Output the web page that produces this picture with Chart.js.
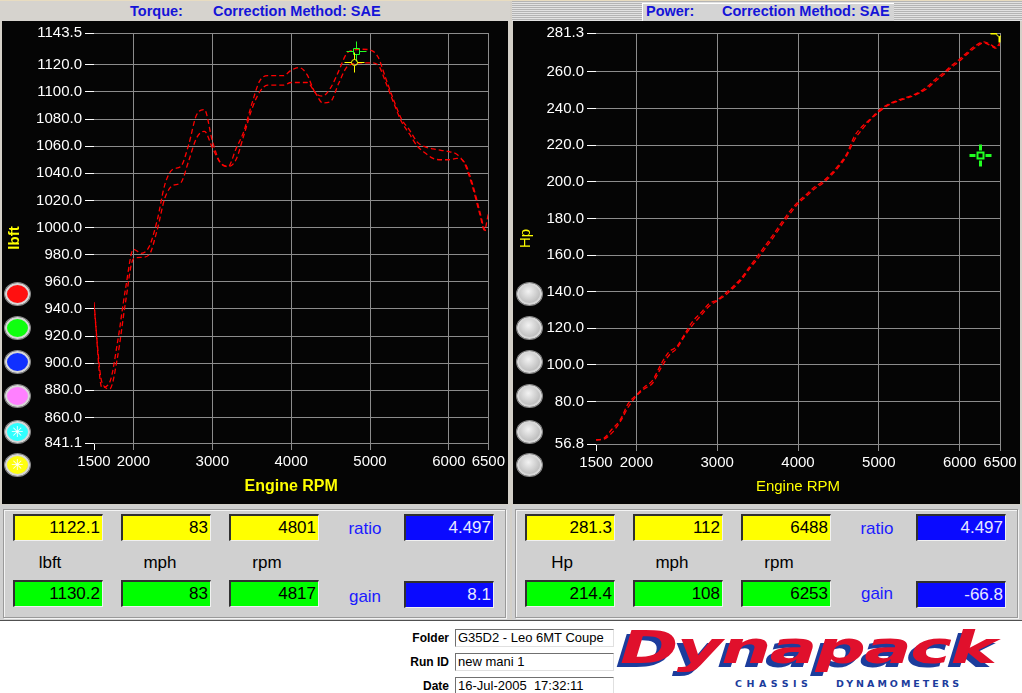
<!DOCTYPE html>
<html>
<head>
<meta charset="utf-8">
<script src="https://cdn.jsdelivr.net/npm/chart.js@4.4.1/dist/chart.umd.min.js"></script>
<style>
  body { margin:0; width:1022px; height:693px; position:relative; overflow:hidden; background:#d4d0c8; font-family:"Liberation Sans", Arial, sans-serif; }
  .abs { position:absolute; }
  .hdr { top:1px; height:20px; }
  .ttl { position:absolute; top:2px; font:bold 14.5px "Liberation Sans", Arial, sans-serif; color:#1414d8; white-space:nowrap; }
  .panel { top:21px; width:506px; height:483px; background:#050505; }
  canvas { position:absolute; top:21px; }
  .btn { position:absolute; width:21px; height:18px; border-radius:50%; border:2px solid #d8d8d8; box-shadow:0 0 0 1px #8a8a8a; color:#fff; font-size:15px; line-height:18px; text-align:center; }
  .grey { background:radial-gradient(circle at 45% 35%, #f2f2f2, #c4c4c4 65%, #a8a8a8); }
  .readout { position:absolute; top:505px; width:510px; height:115px; background:#d0d0d0; }
  .frame { position:absolute; left:3px; top:4px; right:4px; bottom:2px; border:1px solid #9a9a9a; box-shadow:inset 1px 1px 0 #f4f4f4, 1px 1px 0 #f4f4f4; }
  .box { position:absolute; width:90px; height:27px; box-sizing:border-box; border-top:2px solid #303030; border-left:2px solid #303030; border-bottom:1px solid #f0f0f0; border-right:1px solid #f0f0f0; font-size:17px; line-height:24px; text-align:right; padding-right:2px; color:#000; }
  .yel { background:#ffff00; }
  .grn { background:#00ff00; }
  .blu { background:#0a0aff; color:#e8e8ff; }
  .lbl { position:absolute; font-size:17px; color:#000; transform:translateX(-50%); white-space:nowrap; }
  .blab { position:absolute; font-size:17px; color:#1a1aff; transform:translateX(-50%); }
  .info { position:absolute; top:620px; left:0; width:1022px; height:73px; background:#fff; border-top:1px solid #505050; }
  .flab { position:absolute; width:60px; text-align:right; font:bold 12px "Liberation Sans", Arial, sans-serif; color:#000; }
  .fbox { position:absolute; left:455px; width:159px; height:18px; box-sizing:border-box; border-top:1px solid #707070; border-left:1px solid #707070; border-bottom:1px solid #e0e0e0; border-right:1px solid #e0e0e0; font-size:13px; line-height:16px; padding-left:2px; white-space:nowrap; overflow:hidden; color:#000; }
  .sub { position:absolute; top:57px; font:bold 9.5px 'DejaVu Sans', sans-serif; color:#1c3c9c; }
</style>
</head>
<body>
<div class="abs" style="left:0;top:0;width:1022px;height:1px;background:#e8dcc0;"></div>
<div class="abs hdr" style="left:0;width:510px;background:#d6d3ce;">
  <span class="ttl" style="left:130px;">Torque:</span>
  <span class="ttl" style="left:213px;">Correction Method: SAE</span>
</div>
<div class="abs hdr" style="left:512px;width:510px;background:repeating-linear-gradient(#b4b4b4 0 1px, #e2e2e2 1px 2px);">
  <div class="abs" style="left:130px;top:2px;width:251px;height:17px;background:#d4d4d4;border-top:1px solid #fff;border-left:1px solid #fff;"></div>
  <span class="ttl" style="left:134px;">Power:</span>
  <span class="ttl" style="left:210px;">Correction Method: SAE</span>
</div>

<div class="abs panel" style="left:2px;"></div>
<div class="abs panel" style="left:513px;width:507px;"></div>
<canvas id="torqueChart" width="506" height="483" style="left:2px;"></canvas>
<canvas id="powerChart" width="507" height="483" style="left:513px;"></canvas>
<div id="buttons"></div>

<div class="readout" style="left:0;"><div class="frame"></div></div>
<div class="readout" style="left:512px;"><div class="frame"></div></div>
<div id="readouts"></div>

<div class="info">
  <div class="flab" style="left:389px;top:10px;">Folder</div>
  <div class="flab" style="left:389px;top:34px;">Run ID</div>
  <div class="flab" style="left:389px;top:58px;">Date</div>
  <div class="fbox" style="top:8px;">G35D2 - Leo 6MT Coupe</div>
  <div class="fbox" style="top:32px;">new mani 1</div>
  <div class="fbox" style="top:56px;">16-Jul-2005&nbsp; 17:32:11</div>
  <div class="abs" style="left:620px;top:1px;font:italic bold 44px 'DejaVu Sans', sans-serif;color:#e0102c;text-shadow:-3px 4px 0 #1c3c9c;transform:scale(1.6,1);transform-origin:0 0;letter-spacing:-1px;">Dynapack</div>
  <div class="sub" style="left:735px;letter-spacing:4.5px;">CHASSIS</div>
  <div class="sub" style="left:836px;letter-spacing:3px;">DYNAMOMETERS</div>
</div>

<script>
// engine speed of each sample (rpm)
const rpm = [1500, 1600, 1700, 1800, 1900, 2000, 2100, 2200, 2300, 2400, 2500, 2600, 2700, 2800, 2900, 3000,
  3100, 3200, 3300, 3400, 3500, 3600, 3700, 3800, 3900, 4000, 4100, 4200, 4300, 4400, 4500, 4600, 4700, 4800,
  4900, 5000, 5100, 5200, 5300, 5400, 5500, 5600, 5700, 5800, 5900, 6000, 6100, 6200, 6300, 6400, 6450, 6500];

// torque, lbft (two runs)
const torqueRun1 = [945, 882, 886, 916, 955, 984, 981, 986, 1005, 1032, 1043, 1045, 1061, 1083, 1087, 1064,
  1048, 1045, 1058, 1071, 1091, 1108, 1112, 1112, 1112, 1116, 1118, 1113, 1100, 1097, 1103, 1115, 1128, 1131,
  1131.5, 1131, 1126, 1110, 1094, 1080, 1072, 1063, 1059.5, 1058, 1057, 1056, 1054, 1047, 1030, 1008, 998, 1010];
const torqueRun2 = [942, 886, 881, 905, 945, 977, 978, 980, 998, 1022, 1031, 1033, 1049, 1066, 1071, 1059,
  1048, 1045, 1050, 1068, 1087, 1100, 1105, 1105, 1105, 1107, 1107, 1107, 1100, 1092, 1093, 1106, 1118, 1121,
  1121.5, 1121.5, 1120, 1107, 1092, 1078, 1069, 1060, 1055, 1051, 1050, 1050, 1051, 1048, 1032, 1010, 999, 997];

// power, Hp (two runs)
const powerRun1 = [59, 60, 65, 70, 79, 83.5, 88, 91.5, 100, 107, 110, 117, 124, 128.5, 133.5, 135.5,
  139, 143, 147.5, 153.5, 159.5, 165.5, 171.5, 178, 184, 189, 193, 197, 200, 204, 209, 215, 225, 230.5,
  234.5, 239, 242, 244, 245.5, 247, 249, 252, 256, 259.5, 263.5, 267, 271, 274.5, 276.5, 274.5, 273.5, 276];
const powerRun2 = [59, 59.5, 63, 69, 77, 83, 87, 90, 98, 105, 109, 116, 122, 127, 132, 135,
  138, 142, 146.5, 152.5, 158, 164, 170, 176.5, 182.5, 188, 192, 196, 199, 203, 208, 214, 223, 229,
  234, 238, 241.5, 243.5, 245, 246.5, 248.5, 251, 255, 258.5, 262.5, 266, 270, 273.5, 276, 274, 273, 275];

// axis ticks
const rpmTicks = [1500, 2000, 3000, 4000, 5000, 6000, 6500];
const torqueTicks = [841.1, 860, 880, 900, 920, 940, 960, 980, 1000, 1020, 1040, 1060, 1080, 1100, 1120, 1143.5];
const powerTicks = [56.8, 80, 100, 120, 140, 160, 180, 200, 220, 240, 260, 281.3];

// cursor readings [rpm, value]
const torqueCursorYellow = [4801, 1122.1];
const torqueCursorGreen = [4817, 1130.2];
const powerCursorYellow = [6488, 281.3];
const powerCursorGreen = [6253, 214.4];

// readout panel values
const torqueYellow = ['1122.1', '83', '4801'];
const torqueGreen = ['1130.2', '83', '4817'];
const powerYellow = ['281.3', '112', '6488'];
const powerGreen = ['214.4', '108', '6253'];
const ratioGain = { torque: ['4.497', '8.1'], power: ['4.497', '-66.8'] };

const FONT = 'Liberation Sans';

// crosshair cursors drawn on top of the curves
const cursorPlugin = {
  id: 'cursors',
  afterDatasetsDraw(chart, args, opts) {
    const { ctx, chartArea, scales } = chart;
    ctx.save();
    ctx.beginPath();
    ctx.rect(chartArea.left, chartArea.top, chartArea.width + 1, chartArea.height);
    ctx.clip();
    opts.marks.forEach(m => {
      const px = Math.round(scales.x.getPixelForValue(m.at[0])) + 0.5;
      const py = Math.round(scales.y.getPixelForValue(m.at[1])) + 0.5;
      ctx.strokeStyle = m.color;
      ctx.lineWidth = m.width;
      ctx.beginPath();
      ctx.moveTo(px - m.arm, py); ctx.lineTo(px - m.gap, py);
      ctx.moveTo(px + m.gap, py); ctx.lineTo(px + m.arm, py);
      ctx.moveTo(px, py - m.arm); ctx.lineTo(px, py - m.gap);
      ctx.moveTo(px, py + m.gap); ctx.lineTo(px, py + m.arm);
      ctx.stroke();
      ctx.lineWidth = m.width > 2 ? 2 : 1;
      ctx.beginPath();
      if (m.shape === 'circle') ctx.arc(px, py, 3, 0, Math.PI * 2);
      else ctx.rect(px - 3, py - 3, 6, 6);
      ctx.stroke();
    });
    ctx.restore();
  }
};

function runSet(values) {
  return {
    data: rpm.map((r, i) => ({ x: r, y: values[i] })),
    borderColor: '#ff0000',
    borderWidth: 1.3,
    borderDash: [5, 3],
    pointRadius: 0,
    cubicInterpolationMode: 'monotone',
    fill: false
  };
}

function makeChart(id, opt) {
  return new Chart(document.getElementById(id), {
    type: 'line',
    data: { datasets: [runSet(opt.run1), runSet(opt.run2)] },
    plugins: [cursorPlugin],
    options: {
      responsive: false,
      animation: false,
      devicePixelRatio: 1,
      layout: { padding: { top: 11, right: opt.right, left: 0, bottom: 0 } },
      plugins: {
        legend: { display: false },
        tooltip: { enabled: false },
        cursors: { marks: opt.marks }
      },
      scales: {
        x: {
          type: 'linear',
          min: 1500,
          max: 6500,
          afterBuildTicks: s => { s.ticks = rpmTicks.map(v => ({ value: v })); },
          afterFit: s => { s.height = opt.xHeight; },
          ticks: { color: '#fff', font: { family: FONT, size: 15 }, padding: 3, autoSkip: false, maxRotation: 0, callback: v => String(v) },
          grid: {
            color: c => (c.tick && c.tick.value === 1500) ? 'rgba(0,0,0,0)' : '#8c8c8c',
            tickColor: c => (c.tick && c.tick.value === 1500) ? '#ffffff' : '#8c8c8c',
            tickLength: 7,
            lineWidth: 1
          },
          border: { display: false },
          title: { display: true, text: 'Engine RPM', color: '#ffff00', font: opt.xTitleFont, padding: { top: 0, bottom: 8 } }
        },
        y: {
          type: 'linear',
          min: opt.ticks[0],
          max: opt.ticks[opt.ticks.length - 1],
          afterBuildTicks: s => { s.ticks = opt.ticks.map(v => ({ value: v })); },
          afterFit: s => { s.width = opt.yWidth; },
          ticks: { color: '#fff', font: { family: FONT, size: 15 }, padding: 3, callback: v => Number(v).toFixed(1) },
          grid: { color: '#8c8c8c', tickColor: '#ffffff', tickLength: 9, lineWidth: 1 },
          border: { display: false },
          title: { display: true, text: opt.unit, color: '#ffff00', font: opt.yTitleFont, padding: { top: 4, bottom: 0 } }
        }
      }
    }
  });
}

makeChart('torqueChart', {
  run1: torqueRun1, run2: torqueRun2, ticks: torqueTicks, unit: 'lbft',
  yWidth: 92, xHeight: 61, right: 19,
  xTitleFont: { family: FONT, size: 16, weight: 'bold' },
  yTitleFont: { family: FONT, size: 15, weight: 'bold' },
  marks: [
    { at: torqueCursorGreen, color: '#22ff22', width: 1, arm: 10, gap: 3, shape: 'square' },
    { at: torqueCursorYellow, color: '#ffff00', width: 1, arm: 10, gap: 3, shape: 'circle' }
  ]
});

makeChart('powerChart', {
  run1: powerRun1, run2: powerRun2, ticks: powerTicks, unit: 'Hp',
  yWidth: 83, xHeight: 60, right: 20,
  xTitleFont: { family: FONT, size: 15 },
  yTitleFont: { family: FONT, size: 15 },
  marks: [
    { at: powerCursorGreen, color: '#22ff22', width: 3, arm: 11, gap: 5, shape: 'square' },
    { at: powerCursorYellow, color: '#ffff00', width: 2, arm: 9, gap: 3, shape: 'circle' }
  ]
});

// coloured run selector buttons
const btnColours = ['#ff1010', '#10ff10', '#1030ff', '#ff80ff', '#30ffff', '#ffff10'];
const btnY = [294, 328, 362, 396, 432, 465];
let html = '';
btnY.forEach((y, i) => {
  const c = btnColours[i];
  const star = i >= 4 ? '✳' : '';
  html += `<div class="btn" style="left:5px;top:${y - 11}px;background:radial-gradient(circle at 45% 40%, ${c}, ${c} 70%, #888 100%);">${star}</div>`;
  html += `<div class="btn grey" style="left:517px;top:${y - 11}px;"></div>`;
});
document.getElementById('buttons').innerHTML = html;

// readout boxes
function readoutPanel(ox, yellow, green, units, rg, gainY) {
  const xs = [13, 121, 229];
  const lx = [50, 160, 267];
  let h = '';
  xs.forEach((x, i) => {
    h += `<div class="box yel" style="left:${ox + x}px;top:514px;">${yellow[i]}</div>`;
    h += `<div class="box grn" style="left:${ox + x}px;top:580px;">${green[i]}</div>`;
    h += `<div class="lbl" style="left:${ox + lx[i]}px;top:553px;">${units[i]}</div>`;
  });
  h += `<div class="blab" style="left:${ox + 365}px;top:519px;">ratio</div>`;
  h += `<div class="blab" style="left:${ox + 365}px;top:${gainY}px;">gain</div>`;
  h += `<div class="box blu" style="left:${ox + 404}px;top:514px;">${rg[0]}</div>`;
  h += `<div class="box blu" style="left:${ox + 404}px;top:581px;">${rg[1]}</div>`;
  return h;
}
document.getElementById('readouts').innerHTML =
  readoutPanel(0, torqueYellow, torqueGreen, ['lbft', 'mph', 'rpm'], ratioGain.torque, 587) +
  readoutPanel(512, powerYellow, powerGreen, ['Hp', 'mph', 'rpm'], ratioGain.power, 584);
</script>
</body>
</html>
